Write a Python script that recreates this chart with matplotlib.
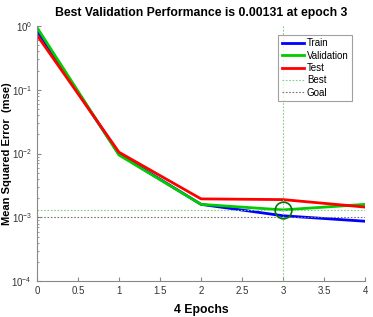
import matplotlib
matplotlib.use("Agg")
import matplotlib.pyplot as plt
import numpy as np

epochs = [0, 1, 2, 3, 4]
train = [0.85, 0.0098, 0.0016, 0.00106, 0.00087]
validation = [0.95, 0.0095, 0.0016, 0.00131, 0.0016]
test = [0.72, 0.0105, 0.00195, 0.0019, 0.00145]
best_epoch = 3
best_value = 0.00131
goal = 0.001

plt.rcParams['font.family'] = ['Liberation Sans', 'DejaVu Sans']

fig = plt.figure(figsize=(3.73, 3.17), dpi=100)
ax = fig.add_axes([0.099, 0.113, 0.88, 0.805])

ax.plot(epochs, train, color='#0000ff', lw=2, label='Train')
ax.plot(epochs, validation, color='#00cc00', lw=2, label='Validation')
ax.plot(epochs, test, color='#ff0000', lw=2, label='Test')
ax.axhline(best_value, color='#88cc88', lw=0.8, ls=(0, (1.5, 1.5)), label='Best')
ax.axvline(best_epoch, color='#88cc88', lw=0.8, ls=(0, (1.5, 1.5)))
ax.axhline(goal, color='#777777', lw=0.8, ls=(0, (1.5, 1.5)), label='Goal')
ax.plot([best_epoch], [best_value], 'o', mfc='none', mec='#007700', ms=12, mew=1.2)

ax.set_yscale('log')
ax.set_xlim(0, 4)
ax.set_ylim(1e-4, 1)
ax.set_xticks([0, 0.5, 1, 1.5, 2, 2.5, 3, 3.5, 4])
ax.set_xticklabels(['0', '0.5', '1', '1.5', '2', '2.5', '3', '3.5', '4'])
for s in ['top', 'right']:
    ax.spines[s].set_visible(False)
for s in ['left', 'bottom']:
    ax.spines[s].set_color('#888888')
ax.tick_params(direction='in', which='both', colors='#888888', labelcolor='#333333', labelsize=7)
ax.tick_params(which='major', length=3)
ax.tick_params(which='minor', length=1.5)

ax.set_title('Best Validation Performance is 0.00131 at epoch 3', fontsize=8.8, fontweight='bold', pad=7)
ax.set_xlabel('4 Epochs', fontsize=8.8, fontweight='bold', labelpad=6)
ax.set_ylabel('Mean Squared Error  (mse)', fontsize=8, fontweight='bold')
ax.yaxis.set_label_coords(-0.076, 0.5)

leg = ax.legend(loc='upper right', bbox_to_anchor=(0.975, 0.985), fontsize=7, frameon=True, fancybox=False,
                edgecolor='#888888', handlelength=2.3, borderpad=0.35, labelspacing=0.25, handletextpad=0.3)
leg.get_frame().set_linewidth(0.8)

fig.savefig('out.png', dpi=100)
